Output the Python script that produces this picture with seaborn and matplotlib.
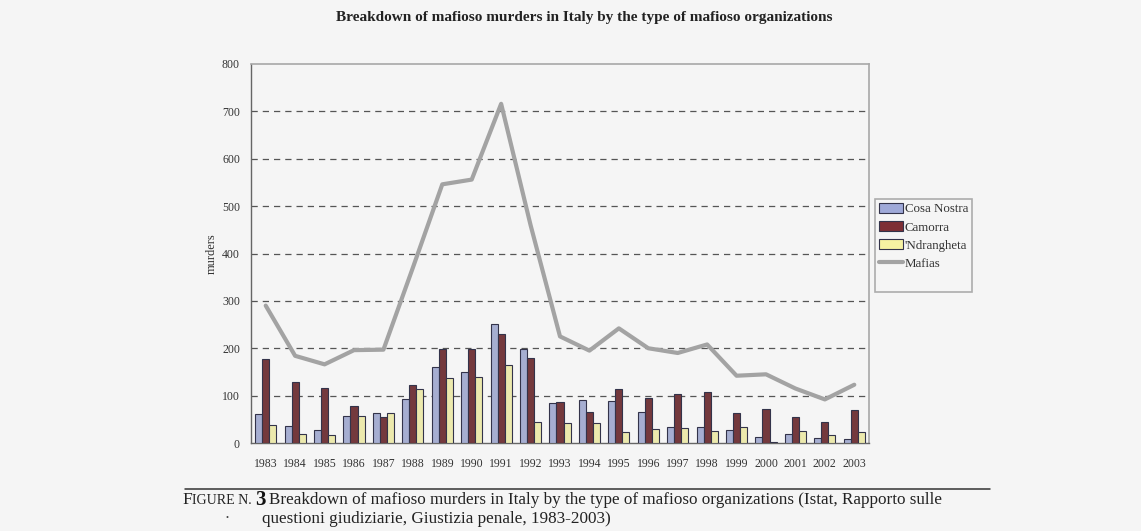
import numpy as np
import pandas as pd
import matplotlib
matplotlib.use("Agg")
import matplotlib.pyplot as plt
import seaborn as sns
from matplotlib.patches import Patch
from matplotlib.lines import Line2D

years = ["1983", "1984", "1985", "1986", "1987", "1988", "1989", "1990", "1991", "1992",
         "1993", "1994", "1995", "1996", "1997", "1998", "1999", "2000", "2001", "2002", "2003"]
cosa_nostra = [62, 35, 28, 58, 63, 93, 160, 150, 252, 199, 84, 90, 89, 65, 34, 34, 27, 12, 19, 10, 8]
camorra = [177, 129, 116, 79, 55, 122, 199, 199, 231, 179, 86, 65, 114, 95, 104, 108, 64, 72, 55, 44, 69]
ndrangheta = [37, 18, 17, 56, 63, 113, 138, 139, 164, 44, 42, 42, 23, 30, 32, 26, 33, 2, 25, 16, 23]
mafias = [290, 184, 166, 196, 197, 370, 546, 556, 716, 460, 225, 195, 242, 200, 190, 208, 142, 145, 115, 92, 123]
series_names = ["Cosa Nostra", "Camorra", "'Ndrangheta"]
line_name = "Mafias"

bar_colors = ["#9fa9d8", "#7e2f35", "#f6f2a2"]
line_color = "#a3a3a3"
serif = ["Liberation Serif", "DejaVu Serif"]

sns.set_theme(style="white")
plt.rcParams["font.family"] = serif

df = pd.DataFrame({
    "year": years * 3,
    "murders": cosa_nostra + camorra + ndrangheta,
    "group": sum([[n] * len(years) for n in series_names], []),
})

W, H = 1141, 531
fig = plt.figure(figsize=(W / 100, H / 100), dpi=100)
fig.patch.set_facecolor("#f5f5f5")
ax = fig.add_axes([251 / W, 1 - 443 / H, (869 - 251) / W, (443 - 64) / H])
ax.set_facecolor("#f5f5f5")

sns.barplot(data=df, x="year", y="murders", hue="group", order=years,
            hue_order=series_names, palette=bar_colors, width=0.72,
            edgecolor="#33334a", linewidth=0.8, ax=ax, legend=False, zorder=3)
sns.lineplot(x=np.arange(len(years)), y=mafias, color=line_color, linewidth=3.0,
             ax=ax, zorder=4)

ax.set_xlim(-0.5, len(years) - 0.5)
ax.set_ylim(0, 800)
ax.set_yticks(np.arange(0, 801, 100))
ax.set_yticklabels([str(v) for v in range(0, 801, 100)], fontsize=8.5, color="#333333")
ax.set_xticks(np.arange(len(years)))
ax.set_xticklabels(years, fontsize=8.5, color="#333333")
ax.set_xticks(np.arange(len(years) + 1) - 0.5, minor=True)
ax.tick_params(axis="x", which="major", length=0, pad=11)
ax.tick_params(axis="x", which="minor", length=4, color="#666666", direction="out")
ax.tick_params(axis="y", length=4, color="#666666", direction="out", pad=4)
ax.set_xlabel("")
ax.set_ylabel("murders", fontsize=9, color="#333333", labelpad=3)

for v in range(100, 800, 100):
    ax.axhline(v, color="#555555", linestyle=(0, (5, 4)), linewidth=0.9, zorder=1)

for side in ["top", "right"]:
    ax.spines[side].set_color("#a8a8a8")
    ax.spines[side].set_linewidth(1.2)
for side in ["left", "bottom"]:
    ax.spines[side].set_color("#666666")
    ax.spines[side].set_linewidth(1.0)

handles = [Patch(facecolor=c, edgecolor="#33334a", linewidth=0.8) for c in bar_colors]
handles.append(Line2D([0], [0], color=line_color, linewidth=3.0))
handles.append(Line2D([0], [0], color="none"))
labels = series_names + [line_name, " "]
leg = fig.legend(handles, labels, loc="upper left", bbox_to_anchor=(875 / W, 1 - 199 / H),
                 frameon=True, fontsize=9.3, handlelength=1.9, handleheight=0.85,
                 handletextpad=0.1, labelspacing=0.42, borderpad=0.3, borderaxespad=0)
leg.get_frame().set_edgecolor("#9a9a9a")
leg.get_frame().set_facecolor("#f5f5f5")
leg.get_frame().set_linewidth(1.2)
leg.get_frame().set_boxstyle("square", pad=0)
for t in leg.get_texts():
    t.set_color("#333333")

fig.text(584 / W, 1 - 18 / H, "Breakdown of mafioso murders in Italy by the type of mafioso organizations",
         ha="center", va="center", fontsize=11, fontweight="bold", color="#222222")

# caption under a rule, with small-caps style figure label
fig.add_artist(Line2D([185 / W, 990 / W], [1 - 489 / H, 1 - 489 / H],
                      color="#333333", linewidth=1.1))
cap_y = 1 - 504 / H
fig.text(182 / W, cap_y, "F", ha="left", va="baseline", fontsize=12.5, color="#222222")
fig.text(191.5 / W, cap_y, "IGURE N.", ha="left", va="baseline", fontsize=10.0, color="#222222")
fig.text(255 / W, cap_y - 1 / H, "3", ha="left", va="baseline", fontsize=15, fontweight="bold",
         color="#111111")
fig.text(269 / W, cap_y,
         "Breakdown of mafioso murders in Italy by the type of mafioso organizations (Istat, Rapporto sulle",
         ha="left", va="baseline", fontsize=12.3, color="#222222")
fig.text(226 / W, 1 - 518 / H, "\u2022", ha="left", va="center", fontsize=6, color="#444444")
fig.text(262 / W, 1 - 523 / H, "questioni giudiziarie, Giustizia penale, 1983-2003)",
         ha="left", va="baseline", fontsize=12.3, color="#222222")

fig.savefig("out.png", dpi=100, facecolor=fig.get_facecolor())
